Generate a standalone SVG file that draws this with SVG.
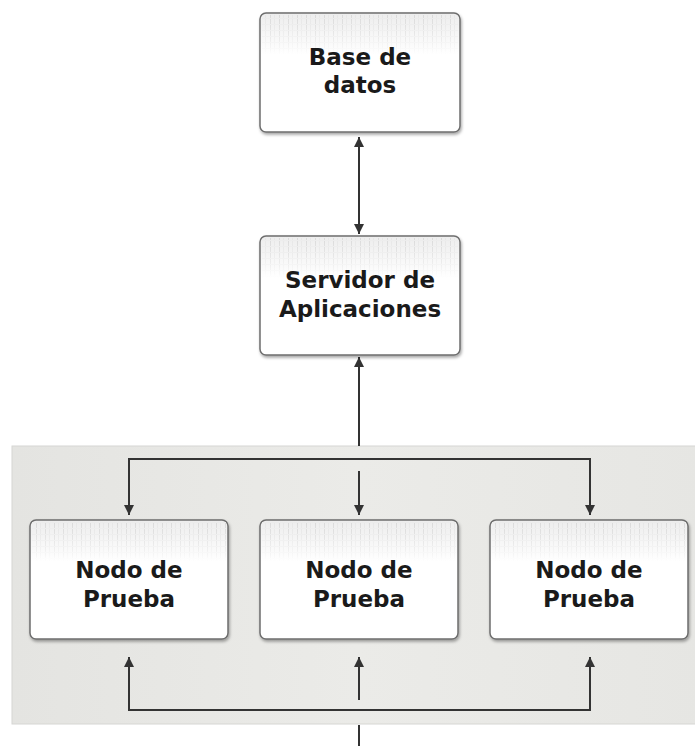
<svg xmlns="http://www.w3.org/2000/svg" width="695" height="746" viewBox="0 0 695 746">
  <defs>
    <style>
      .box { fill: url(#boxFill); stroke: #6e6e6e; stroke-width: 1.5; filter: url(#shadow); }
      .grid { fill: url(#stripes); }
      .lbl { font-family: "DejaVu Sans", "Noto Sans", sans-serif; font-weight: bold; font-size: 23px; fill: #1a1a1a; text-anchor: middle; }
      .conn { fill: none; stroke: #333333; stroke-width: 2; }
    </style>
    <linearGradient id="boxFill" x1="0" y1="0" x2="0" y2="1">
      <stop offset="0" stop-color="#ededed"/>
      <stop offset="0.35" stop-color="#ffffff"/>
      <stop offset="1" stop-color="#ffffff"/>
    </linearGradient>
    <linearGradient id="fade" x1="0" y1="0" x2="0" y2="1">
      <stop offset="0" stop-color="#ffffff" stop-opacity="0.9"/>
      <stop offset="1" stop-color="#ffffff" stop-opacity="0"/>
    </linearGradient>
    <mask id="fadeMask" maskContentUnits="objectBoundingBox">
      <rect x="0" y="0" width="1" height="1" fill="url(#fade)"/>
    </mask>
    <pattern id="stripes" width="9" height="6" patternUnits="userSpaceOnUse">
      <rect x="0" y="0" width="1" height="6" fill="#d8d8d8"/>
      <rect x="4" y="0" width="1" height="6" fill="#e6e6e6"/>
      <rect x="0" y="0" width="9" height="1" fill="#ececec"/>
    </pattern>
    <linearGradient id="panelFill" x1="0" y1="0" x2="1" y2="0">
      <stop offset="0" stop-color="#e4e4e1"/>
      <stop offset="0.5" stop-color="#ebebe8"/>
      <stop offset="1" stop-color="#e6e6e3"/>
    </linearGradient>
    <filter id="shadow" x="-10%" y="-10%" width="125%" height="130%">
      <feDropShadow dx="1" dy="2" stdDeviation="1.5" flood-color="#000000" flood-opacity="0.35"/>
    </filter>
    <marker id="arrow" viewBox="0 0 10 12" refX="10" refY="5" markerWidth="10" markerHeight="12" markerUnits="userSpaceOnUse" orient="auto-start-reverse">
      <path d="M0,0 L10,5 L0,10 Z" fill="#333333"/>
    </marker>
  </defs>

  <rect id="panel" x="12" y="446" width="690" height="278" fill="url(#panelFill)" stroke="#d6d6d3" stroke-width="1"/>

  <g id="connectors">
    <path class="conn" d="M359,137 L359,234" marker-start="url(#arrow)" marker-end="url(#arrow)"/>
    <path class="conn" d="M359,446 L359,357" marker-end="url(#arrow)"/>
    <path class="conn" d="M129,515 L129,459 L590,459 L590,515" marker-end="url(#arrow)" marker-start="url(#arrow)"/>
    <path class="conn" d="M359,471 L359,515" marker-end="url(#arrow)"/>
    <path class="conn" d="M129,657 L129,710 L590,710 L590,657" marker-start="url(#arrow)" marker-end="url(#arrow)"/>
    <path class="conn" d="M359,700 L359,657" marker-end="url(#arrow)"/>
    <path class="conn" d="M359,725 L359,746"/>
  </g>

  <g id="base-de-datos">
    <rect class="box" x="260" y="13" width="200" height="119" rx="6"/>
    <rect class="grid" x="262" y="15" width="196" height="40" mask="url(#fadeMask)"/>
    <text class="lbl" x="360" y="65">Base de</text>
    <text class="lbl" x="360" y="93">datos</text>
  </g>

  <g id="servidor">
    <rect class="box" x="260" y="236" width="200" height="119" rx="6"/>
    <rect class="grid" x="262" y="238" width="196" height="40" mask="url(#fadeMask)"/>
    <text class="lbl" x="360" y="288">Servidor de</text>
    <text class="lbl" x="360" y="317">Aplicaciones</text>
  </g>

  <g id="nodo1">
    <rect class="box" x="30" y="520" width="198" height="119" rx="6"/>
    <rect class="grid" x="32" y="522" width="194" height="40" mask="url(#fadeMask)"/>
    <text class="lbl" x="129" y="578">Nodo de</text>
    <text class="lbl" x="129" y="607">Prueba</text>
  </g>

  <g id="nodo2">
    <rect class="box" x="260" y="520" width="198" height="119" rx="6"/>
    <rect class="grid" x="262" y="522" width="194" height="40" mask="url(#fadeMask)"/>
    <text class="lbl" x="359" y="578">Nodo de</text>
    <text class="lbl" x="359" y="607">Prueba</text>
  </g>

  <g id="nodo3">
    <rect class="box" x="490" y="520" width="198" height="119" rx="6"/>
    <rect class="grid" x="492" y="522" width="194" height="40" mask="url(#fadeMask)"/>
    <text class="lbl" x="589" y="578">Nodo de</text>
    <text class="lbl" x="589" y="607">Prueba</text>
  </g>
</svg>
